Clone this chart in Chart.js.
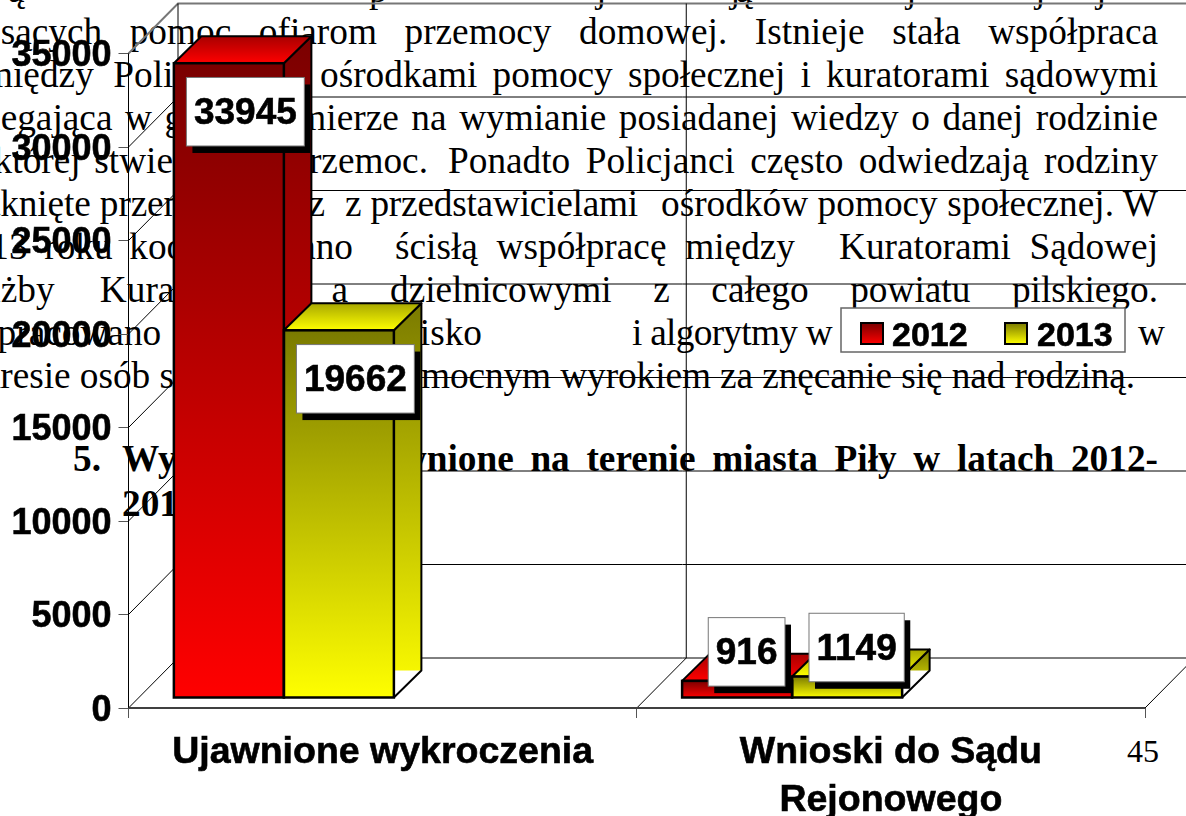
<!DOCTYPE html>
<html lang="pl">
<head>
<meta charset="utf-8">
<title>Wykroczenia</title>
<style>
html,body{margin:0;padding:0;background:#fff;width:1186px;height:816px;overflow:hidden}
#doc{position:absolute;left:0;top:0;width:1186px;height:816px;overflow:hidden;font-family:"Liberation Serif",serif;font-size:37.3px;color:#000}
#doc div{position:absolute;white-space:nowrap;line-height:43px;height:43px}
canvas{position:absolute;left:0;top:0}
</style>
<script src="https://cdn.jsdelivr.net/npm/chart.js@4"></script>
</head>
<body>
<div id="doc"></div>
<canvas id="c" width="1186" height="816"></canvas>
<script>
const categories = [["Ujawnione wykroczenia"], ["Wnioski do Sądu", "Rejonowego"]];
const seriesNames = ["2012", "2013"];
const values2012 = [33945, 916];
const values2013 = [19662, 1149];
const tickStep = 5000;
const axisMax = 35000;

// document text behind the chart: [left, right, baseline, text, bold]
const docLines = [
  [-47, 1158, 41, "niosących pomoc ofiarom przemocy domowej. Istnieje stała współpraca"],
  [-16, 253, 84, "między Policją a"],
  [320, 1158, 84, "ośrodkami pomocy społecznej i kuratorami sądowymi"],
  [-47, 1158, 127, "polegająca w głównej mierze na wymianie posiadanej wiedzy o danej rodzinie"],
  [-47, 428, 170, "w której stwierdzono przemoc."],
  [448, 1158, 170, "Ponadto Policjanci często odwiedzają rodziny"],
  [-47, 325, 213, "dotknięte przemocą wraz"],
  [345, 638, 213, "z przedstawicielami"],
  [661, 1158, 213, "ośrodków pomocy społecznej. W"],
  [-47, 353, 256, "2013 roku koordynowano"],
  [395, 795, 256, "ścisłą współpracę między"],
  [839, 1158, 256, "Kuratorami Sądowej"],
  [-49, 348, 299, "Służby Kuratorskiej a"],
  [390, 1158, 299, "dzielnicowymi z całego powiatu pilskiego."],
  [-54, 482, 342, "Wypracowano wspólne stanowisko"],
  [632, 832, 342, "i algorytmy w"],
  [-37, 174, 385, "okresie osób s"],
  [421, 1135, 385, "mocnym wyrokiem za znęcanie się nad rodziną."],
  [122, 1158, 468, "Wykroczenia ujawnione na terenie miasta Piły w latach 2012-", true]
];
const docLoose = [
  [73, 468, "5.", true],
  [122, 513, "2013", true],
  [1138, 342, "w"],
  [8, -1, "ą"], [369, -1, "p"], [596, -1, "j"], [730, -1, "j"], [736, -1, "ą"],
  [906, -1, "j"], [1035, -1, "j"], [1096, -1, "j"]
];
const pageNumber = "45";

const doc = document.getElementById("doc");
function addLine(left, baseline, text, bold, right, size) {
  const d = document.createElement("div");
  d.textContent = text;
  d.style.left = left + "px";
  d.style.top = (baseline - 31) + "px";
  if (bold) d.style.fontWeight = "bold";
  if (size) d.style.fontSize = size + "px";
  doc.appendChild(d);
  if (right !== undefined) {
    const extra = (right - left) - d.getBoundingClientRect().width;
    const gaps = text.split(" ").length - 1;
    if (extra >= 0 && gaps > 0) d.style.wordSpacing = (extra / gaps) + "px";
    else d.style.letterSpacing = (extra / text.length) + "px";
  }
}
docLines.forEach(l => addLine(l[0], l[2], l[3], l[4], l[1]));
docLoose.forEach(l => addLine(l[0], l[1], l[2], l[3]));
addLine(1127, 761, pageNumber, false, undefined, 32);

const depthX = 49.5, depthY = 50;        // floor depth of the 3D box
const planeX = -98.75, planeY = -10;     // where the bars stand on the floor
const barDepthX = 27.5, barDepthY = 27;
const colours = [
  {dark:"#7a0000", mid:"#a80000", bright:"#ff0000"},
  {dark:"#7a7a00", mid:"#a8a800", bright:"#ffff00"}
];
const FONT = '"Liberation Sans", Arial, sans-serif';

function frontGradient(ctx) {
  const chart = ctx.chart, y = chart.scales.y;
  const fallback = colours[ctx.datasetIndex].bright;
  if (!y || typeof ctx.raw !== "number") return fallback;
  const top = y.getPixelForValue(ctx.raw) + planeY, bottom = y.getPixelForValue(0) + planeY;
  if (!Number.isFinite(top) || !Number.isFinite(bottom)) return fallback;
  const g = chart.ctx.createLinearGradient(0, top, 0, bottom);
  g.addColorStop(0, colours[ctx.datasetIndex].dark);
  g.addColorStop(1, colours[ctx.datasetIndex].bright);
  return g;
}

const box3d = {
  id: "box3d",
  afterDatasetsUpdate(chart) {
    chart.data.datasets.forEach((d, i) => {
      chart.getDatasetMeta(i).data.forEach(b => {
        b.x += planeX; b.y += planeY; b.base += planeY;
      });
    });
  },
  beforeDatasetsDraw(chart) {
    const c = chart.ctx, x = chart.scales.x, y = chart.scales.y;
    const y0 = y.getPixelForValue(0), L = x.left, R = x.right;
    c.save();
    // left and back walls
    y.ticks.map(t => t.value).forEach(v => {
      const py = y.getPixelForValue(v);
      c.lineWidth = v === axisMax ? 2 : 1;
      c.strokeStyle = v === axisMax ? "#777" : "#000";
      c.beginPath();
      c.moveTo(L, py); c.lineTo(L + depthX, py - depthY); c.lineTo(R + depthX, py - depthY);
      c.stroke();
    });
    c.lineWidth = 1; c.strokeStyle = "#000";
    c.beginPath();
    c.moveTo(L, y.top); c.lineTo(L, y0);
    c.moveTo(L + depthX, y.top - depthY); c.lineTo(L + depthX, y0 - depthY);
    const mid = (L + R) / 2;
    c.moveTo(mid + depthX, y.top - depthY); c.lineTo(mid + depthX, y0 - depthY);
    c.moveTo(mid, y0); c.lineTo(mid + depthX, y0 - depthY);
    c.moveTo(R, y0); c.lineTo(R + depthX, y0 - depthY);
    c.stroke();
    // floor front edge
    c.lineWidth = 2; c.strokeStyle = "#404040";
    c.beginPath(); c.moveTo(L, y0); c.lineTo(R, y0); c.stroke();
    // side and top faces of the bars
    c.lineJoin = "round";
    chart.data.datasets.forEach((d, i) => {
      const col = colours[i];
      chart.getDatasetMeta(i).data.forEach(b => {
        const l = b.x - b.width / 2, r = b.x + b.width / 2, t = b.y, bot = b.base;
        const sideBottom = bot - barDepthY;
        const backTop = t - barDepthY;
        // side
        const gs = c.createLinearGradient(0, backTop, 0, bot);
        gs.addColorStop(0, col.dark); gs.addColorStop(1, col.bright);
        c.fillStyle = gs;
        c.beginPath();
        c.moveTo(r, t); c.lineTo(r + barDepthX, backTop); c.lineTo(r + barDepthX, sideBottom); c.lineTo(r, sideBottom);
        c.closePath(); c.fill();
        c.strokeStyle = "#000"; c.lineWidth = 2;
        c.beginPath();
        c.moveTo(r, t); c.lineTo(r + barDepthX, backTop); c.lineTo(r + barDepthX, sideBottom); c.lineTo(r, bot);
        c.stroke();
        // top
        const gt = c.createLinearGradient(0, backTop, 0, t);
        gt.addColorStop(0, col.mid); gt.addColorStop(1, col.bright);
        c.fillStyle = gt;
        c.beginPath();
        c.moveTo(l, t); c.lineTo(l + barDepthX, backTop); c.lineTo(r + barDepthX, backTop); c.lineTo(r, t);
        c.closePath(); c.fill(); c.stroke();
      });
    });
    c.restore();
  },
  afterDatasetsDraw(chart) {
    const c = chart.ctx;
    c.save();
    // black outline of the front faces
    c.strokeStyle = "#000"; c.lineWidth = 2.5;
    chart.data.datasets.forEach((d, i) => {
      chart.getDatasetMeta(i).data.forEach(b => {
        c.strokeRect(b.x - b.width / 2, b.y, b.width, b.base - b.y);
      });
    });
    // data labels: white box with a black drop shadow
    c.font = "bold 37px " + FONT;
    c.textAlign = "center"; c.textBaseline = "middle";
    chart.data.datasets.forEach((d, i) => {
      chart.getDatasetMeta(i).data.forEach((b, j) => {
        const tall = b.base - b.y > 100;
        const cx = b.x + (tall ? 16.5 : 9.5);
        const cy = b.y + (tall ? 48.5 : -29);
        const text = String(d.data[j]);
        const w = c.measureText(text).width + 15, h = 68.5;
        c.fillStyle = "#000";
        c.fillRect(cx - w / 2 + 6, cy - h / 2 + 7, w, h);
        c.fillStyle = "#fff";
        c.fillRect(cx - w / 2, cy - h / 2, w, h);
        c.strokeStyle = "#777"; c.lineWidth = 1;
        c.strokeRect(cx - w / 2, cy - h / 2, w, h);
        c.fillStyle = "#000";
        c.fillText(text, cx, cy + 2);
        c.strokeStyle = "#000"; c.lineWidth = 0.6;
        c.strokeText(text, cx, cy + 2);
      });
    });
    // legend
    c.fillStyle = "#fff"; c.fillRect(841, 308, 284, 44);
    c.strokeStyle = "#666"; c.lineWidth = 1.5; c.strokeRect(841, 308, 284, 44);
    c.font = "bold 34px " + FONT; c.textAlign = "left";
    const swatch = [861, 1005], label = [892, 1037];
    chart.data.datasets.forEach((d, i) => {
      const g = c.createLinearGradient(0, 323, 0, 344);
      g.addColorStop(0, colours[i].dark); g.addColorStop(1, colours[i].bright);
      c.fillStyle = g; c.fillRect(swatch[i], 323, 22, 21);
      c.strokeStyle = "#000"; c.lineWidth = 2; c.strokeRect(swatch[i], 323, 22, 21);
      c.fillStyle = "#000"; c.fillText(d.label, label[i], 337);
      c.lineWidth = 0.6; c.strokeText(d.label, label[i], 337);
    });
    c.restore();
  }
};

function nudgeLabels(scale, dy) {
  if (scale._nudged) return;
  scale._nudged = true;
  const draw = scale.drawLabels;
  scale.drawLabels = function (area) {
    this.ctx.save();
    this.ctx.translate(0, dy);
    draw.call(this, area);
    this.ctx.restore();
  };
}

new Chart(document.getElementById("c"), {
  type: "bar",
  data: {
    labels: categories,
    datasets: [
      {label: seriesNames[0], data: values2012, backgroundColor: frontGradient, borderWidth: 0, clip: false},
      {label: seriesNames[1], data: values2013, backgroundColor: frontGradient, borderWidth: 0, clip: false}
    ]
  },
  plugins: [box3d],
  options: {
    responsive: false,
    animation: false,
    events: [],
    categoryPercentage: 0.4329,
    barPercentage: 1,
    layout: {padding: {top: 53.5, right: 41}},
    plugins: {legend: {display: false}, title: {display: false}, tooltip: {enabled: false}},
    scales: {
      x: {
        offset: true,
        afterFit(s) { s.height = 108; },
        grid: {display: true, drawOnChartArea: false, drawTicks: true, offset: true, tickLength: 10, color: "#555", lineWidth: 1},
        border: {display: false},
        ticks: {autoSkip: false, maxRotation: 0, minRotation: 0, color: "#000", padding: 10, textStrokeColor: "#000", textStrokeWidth: 0.6, font: {family: FONT, size: 37.5, weight: "bold", lineHeight: 1.3}}
      },
      y: {
        min: 0, max: axisMax,
        afterFit(s) { s.width = 128.5; nudgeLabels(s, 3); },
        grid: {display: true, drawOnChartArea: false, drawTicks: true, tickLength: 10, color: "#555", lineWidth: 1},
        border: {display: false},
        ticks: {stepSize: tickStep, color: "#000", padding: 7, textStrokeColor: "#000", textStrokeWidth: 0.6, callback: v => String(v), font: {family: FONT, size: 36, weight: "bold"}}
      }
    }
  }
});
</script>
</body>
</html>
